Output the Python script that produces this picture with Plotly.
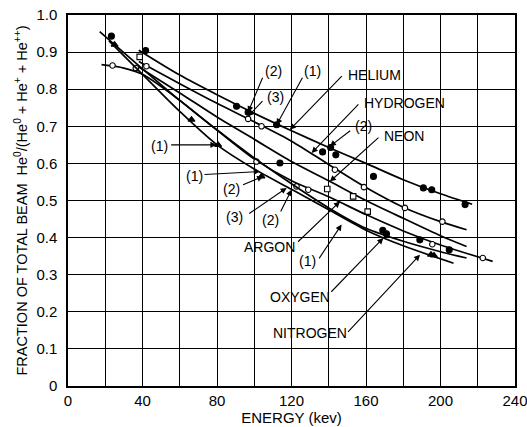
import plotly.graph_objects as go

# ---------------- data ----------------
helium_x = [38, 60, 80, 100, 120, 140, 160, 180, 200, 217]
helium_y = [0.905, 0.838, 0.785, 0.735, 0.688, 0.643, 0.600, 0.556, 0.518, 0.490]
helium_pts_x = [41.7, 90.5, 96.7, 112, 136.7, 141, 143.8, 164, 190.8, 195.3, 213.2]
helium_pts_y = [0.904, 0.754, 0.738, 0.704, 0.631, 0.643, 0.623, 0.565, 0.534, 0.529, 0.489]

hydrogen_x = [38, 60, 80, 100, 120, 140, 160, 180, 200, 214]
hydrogen_y = [0.875, 0.815, 0.762, 0.712, 0.660, 0.597, 0.535, 0.482, 0.443, 0.421]
hydrogen_pts_x = [42.1, 96.7, 103.9, 143.3, 158.9, 180.9, 201]
hydrogen_pts_y = [0.862, 0.720, 0.700, 0.583, 0.536, 0.480, 0.443]

neon_x = [38, 60, 80, 100, 120, 140, 160, 180, 200, 214]
neon_y = [0.860, 0.790, 0.725, 0.665, 0.605, 0.553, 0.500, 0.452, 0.405, 0.376]
neon_pts_x = [38.5, 139.2, 153.1, 160.9]
neon_pts_y = [0.887, 0.531, 0.511, 0.470]

argon_x = [18, 30, 40, 60, 80, 100, 120, 140, 160, 180, 200, 228]
argon_y = [0.866, 0.857, 0.840, 0.770, 0.690, 0.612, 0.553, 0.510, 0.462, 0.418, 0.380, 0.336]
argon_pts_x = [23.9, 36.4, 101.2, 122.7, 129, 195.6, 222.7]
argon_pts_y = [0.864, 0.857, 0.605, 0.538, 0.529, 0.382, 0.345]

oxygen_x = [17, 40, 60, 80, 100, 120, 140, 160, 180, 200, 214]
oxygen_y = [0.955, 0.855, 0.770, 0.690, 0.615, 0.545, 0.480, 0.425, 0.390, 0.362, 0.345]
oxygen_pts_x = [23.3, 113.8, 169, 171, 188.9, 204.7]
oxygen_pts_y = [0.943, 0.601, 0.420, 0.410, 0.394, 0.367]

nitrogen_x = [22, 40, 60, 80, 100, 120, 140, 160, 180, 207]
nitrogen_y = [0.930, 0.840, 0.740, 0.650, 0.585, 0.530, 0.475, 0.420, 0.378, 0.331]
nitrogen_pts_x = [25, 66.3, 80.6, 103.9, 194.9, 196.5]
nitrogen_pts_y = [0.920, 0.718, 0.650, 0.565, 0.354, 0.352]

x_tick_vals = [0, 20, 40, 60, 80, 100, 120, 140, 160, 180, 200, 220, 240]
x_tick_text = ["0", "", "40", "", "80", "", "120", "", "160", "", "200", "", "240"]
y_tick_vals = [0, 0.1, 0.2, 0.3, 0.4, 0.5, 0.6, 0.7, 0.8, 0.9, 1.0]
y_tick_text = ["0", "0.1", "0.2", "0.3", "0.4", "0.5", "0.6", "0.7", "0.8", "0.9", "1.0"]

FONT = "Liberation Sans, Arial, sans-serif"

fig = go.Figure()

# (line x, line y, point x, point y, marker symbol, filled?)
curves = [
    (helium_x, helium_y, helium_pts_x, helium_pts_y, "circle", True),
    (hydrogen_x, hydrogen_y, hydrogen_pts_x, hydrogen_pts_y, "circle", False),
    (neon_x, neon_y, neon_pts_x, neon_pts_y, "square", False),
    (argon_x, argon_y, argon_pts_x, argon_pts_y, "circle", False),
    (oxygen_x, oxygen_y, oxygen_pts_x, oxygen_pts_y, "circle", True),
    (nitrogen_x, nitrogen_y, nitrogen_pts_x, nitrogen_pts_y, "triangle-up", True),
]
for cx, cy, px, py, sym, filled in curves:
    fig.add_trace(go.Scatter(x=cx, y=cy, mode="lines",
                             line=dict(color="black", width=1.7, shape="spline", smoothing=0.8),
                             showlegend=False, hoverinfo="skip"))
    fig.add_trace(go.Scatter(x=px, y=py, mode="markers",
                             marker=dict(symbol=sym, size=6 if filled else 5.5,
                                         color="black" if filled else "white",
                                         line=dict(color="black", width=1.1)),
                             showlegend=False, hoverinfo="skip"))

# label text: (text, x, y, xanchor)
labels = [
    ("HELIUM", 149.5, 0.839, "left"),
    ("HYDROGEN", 157.7, 0.764, "left"),
    ("(2)", 158.4, 0.700, "center"),
    ("NEON", 168.4, 0.673, "left"),
    ("(1)", 131.5, 0.850, "center"),
    ("(2)", 110.5, 0.848, "center"),
    ("(3)", 111.6, 0.779, "center"),
    ("(1)", 49.3, 0.648, "center"),
    ("(1)", 68.0, 0.565, "center"),
    ("(2)", 88.0, 0.532, "center"),
    ("(3)", 89.6, 0.455, "center"),
    ("(2)", 108.9, 0.448, "center"),
    ("ARGON", 108.4, 0.376, "center"),
    ("(1)", 128.8, 0.337, "center"),
    ("OXYGEN", 124.5, 0.241, "center"),
    ("NITROGEN", 129.9, 0.142, "center"),
]
# arrows: (tail x, tail y, tip x, tip y)
arrows = [
    (147.8, 0.839, 119.1, 0.691),
    (156.7, 0.763, 130.8, 0.628),
    (152.3, 0.691, 140.6, 0.646),
    (167.5, 0.673, 140.6, 0.551),
    (126.3, 0.835, 112.0, 0.704),
    (104.8, 0.835, 96.7, 0.738),
    (105.2, 0.772, 96.7, 0.727),
    (54.6, 0.650, 79.7, 0.650),
    (72.5, 0.570, 103.0, 0.578),
    (93.2, 0.541, 104.8, 0.565),
    (96.5, 0.462, 117.4, 0.534),
    (113.8, 0.466, 120.0, 0.529),
    (122.7, 0.385, 146.0, 0.497),
    (134.3, 0.340, 146.9, 0.435),
    (140.6, 0.250, 169.3, 0.399),
    (149.6, 0.142, 189.0, 0.354),
]

annotations = []
for t, x, y, xa in labels:
    annotations.append(dict(text=t, x=x, y=y, xref="x", yref="y", xanchor=xa, yanchor="middle",
                            showarrow=False, font=dict(family=FONT, size=14, color="black")))
for tx, ty, hx, hy in arrows:
    annotations.append(dict(text="", x=hx, y=hy, ax=tx, ay=ty, xref="x", yref="y",
                            axref="x", ayref="y", showarrow=True, arrowhead=2, arrowsize=1.1,
                            arrowwidth=1.1, arrowcolor="black", standoff=0, startstandoff=0))

fig.update_layout(
    width=527, height=427,
    margin=dict(l=68, r=12, t=15, b=41, autoexpand=False),
    paper_bgcolor="white", plot_bgcolor="white",
    font=dict(family=FONT, size=15, color="black"),
    annotations=annotations,
    xaxis=dict(range=[0, 240], tickvals=x_tick_vals, ticktext=x_tick_text, automargin=False,
               ticklabeloverflow="allow",
               showgrid=True, gridcolor="black", gridwidth=1,
               showline=True, linecolor="black", linewidth=1.5, mirror=True,
               ticks="", zeroline=False, tickfont=dict(size=15),
               title=dict(text="ENERGY (kev)", font=dict(size=15), standoff=2)),
    yaxis=dict(range=[0, 1.0], tickvals=y_tick_vals, ticktext=y_tick_text, automargin=False,
               ticklabeloverflow="allow",
               showgrid=True, gridcolor="black", gridwidth=1,
               showline=True, linecolor="black", linewidth=1.5, mirror=True,
               ticks="", zeroline=False, tickfont=dict(size=15), ticklabelstandoff=6,
               title=dict(text="FRACTION OF TOTAL BEAM  He<sup>0</sup>/(He<sup>0</sup> + He<sup>+</sup> + He<sup>++</sup>)",
                          font=dict(size=14.5), standoff=5)),
)

fig.write_html("out.html", config={"displayModeBar": False},
               post_script="document.body.style.margin='0';document.body.style.overflow='hidden';")
